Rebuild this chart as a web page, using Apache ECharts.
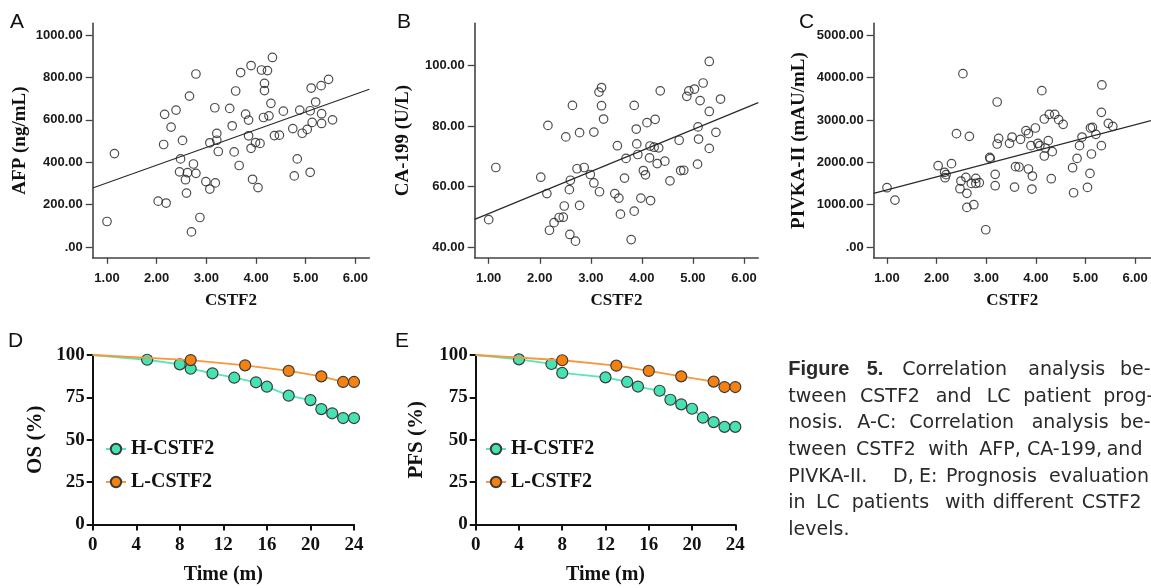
<!DOCTYPE html>
<html><head><meta charset="utf-8">
<script src="https://cdn.jsdelivr.net/npm/echarts@6/dist/echarts.min.js"></script>
<style>html,body{margin:0;padding:0;background:#fff}#c{width:1151px;height:588px}</style>
</head><body><div id="c"></div>
<script>
// ---- Panel A: CSTF2 vs AFP ----
const cstfA = [1.00,1.15,2.03,2.19,2.14,2.16,2.29,2.39,2.52,2.48,2.46,2.58,2.62,2.60,2.66,2.74,2.79,2.79,2.87,2.70,2.99,3.07,3.07,3.18,3.17,3.21,3.21,3.24,3.47,3.52,3.56,3.59,3.66,3.69,3.79,3.85,3.85,3.90,3.90,3.93,3.99,4.04,4.08,4.11,4.23,4.17,4.17,4.15,4.26,4.30,4.33,4.37,4.47,4.55,4.74,4.77,4.83,4.88,4.93,5.03,5.09,5.09,5.11,5.13,5.20,5.31,5.32,5.32,5.46,5.54];
const afpVals = [121,441,217,208,484,626,566,646,503,416,355,318,351,255,712,392,348,816,140,72,309,274,492,303,657,536,504,451,654,572,449,736,385,823,627,599,525,856,466,320,493,281,489,835,832,772,738,611,619,678,894,526,528,641,559,336,416,646,537,555,643,353,750,588,684,761,629,583,791,600];
const fitA = [[0.712, 279], [6.28, 744]];
const afpTicks = [0, 200, 400, 600, 800, 1000];

// ---- Panel B: CSTF2 vs CA-199 ----
const cstfB = [1.00,1.14,2.02,2.14,2.16,2.19,2.28,2.38,2.46,2.48,2.51,2.58,2.60,2.59,2.70,2.64,2.73,2.78,2.78,2.87,2.99,3.06,3.06,3.17,3.16,3.21,3.21,3.25,3.47,3.52,3.55,3.58,3.66,3.69,3.79,3.85,3.85,3.89,3.90,3.92,3.98,4.03,4.07,4.10,4.15,4.16,4.17,4.24,4.26,4.33,4.30,4.36,4.45,4.55,4.73,4.76,4.82,4.88,4.92,5.03,5.09,5.10,5.11,5.14,5.20,5.32,5.32,5.32,5.45,5.54];
const ca199Vals = [49.1,66.3,63.1,57.7,80.2,45.6,48.1,49.8,49.9,53.6,76.4,59.0,62.1,44.2,42.0,86.8,65.9,77.8,53.8,66.3,64.0,61.2,78.0,58.3,91.2,92.7,86.7,82.3,57.7,73.5,56.2,50.9,62.8,69.3,42.5,51.9,86.8,79.0,74.1,70.6,56.2,65.3,63.9,81.1,69.5,73.4,55.4,73.0,82.2,72.8,67.6,91.6,68.4,61.9,75.3,65.3,65.4,89.8,91.6,92.2,67.4,79.7,75.7,88.4,94.2,101.3,84.8,72.6,77.9,88.9];
const fitB = [[0.726, 49.2], [6.28, 87.7]];
const ca199Ticks = [40, 60, 80, 100];

// ---- Panel C: CSTF2 vs PIVKA-II ----
const cstfC = [1.00,1.16,2.03,2.16,2.17,2.19,2.30,2.40,2.47,2.49,2.53,2.59,2.61,2.61,2.66,2.70,2.75,2.79,2.79,2.86,2.99,3.07,3.08,3.18,3.18,3.22,3.22,3.25,3.47,3.52,3.57,3.59,3.66,3.69,3.80,3.85,3.85,3.90,3.92,3.93,3.99,4.04,4.08,4.12,4.17,4.17,4.19,4.25,4.27,4.31,4.33,4.38,4.46,4.55,4.74,4.76,4.83,4.88,4.93,5.04,5.09,5.10,5.12,5.14,5.21,5.32,5.33,5.32,5.46,5.55];
const pivkaVals = [1402,1110,1921,1764,1638,1709,1969,2677,1378,1559,4094,1646,1268,937,2614,1504,1000,1622,1504,1520,409,2118,2087,1717,1449,3425,2433,2567,2449,2598,1417,1898,1890,2543,2748,2677,1843,2394,1370,1677,2811,2449,2394,3693,3024,2150,2339,2512,3134,1614,2252,3134,3008,2898,1874,1283,2094,2394,2598,1409,1740,2811,2197,2827,2661,3181,3827,2394,2921,2850];
const fitC = [[0.732, 1268], [6.32, 2984]];
const pivkaTicks = [0, 1000, 2000, 3000, 4000, 5000];
const cstfTicks = [1, 2, 3, 4, 5, 6];

// ---- Panel D: OS ----
const osTimeH = [0,5,8,9,11,13,15,16,18,20,21,22,23,24];
const osH     = [100,97.2,94.5,91.9,89.2,86.6,83.9,81.3,76.0,73.4,68.1,65.6,62.8,62.8];
const osTimeL = [0,9,14,18,21,23,24];
const osL     = [100,97.0,93.9,90.6,87.4,84.1,84.1];

// ---- Panel E: PFS ----
const pfsTimeH = [0,4,7,8,12,14,15,17,18,19,20,21,22,23,24];
const pfsH     = [100,97.4,94.7,89.4,86.8,84.1,81.4,78.9,73.6,70.9,68.3,63.0,60.4,57.6,57.6];
const pfsTimeL = [0,8,13,16,19,22,23,24];
const pfsL     = [100,96.9,93.7,90.6,87.4,84.3,81.1,81.1];

const groupNames = ['H-CSTF2', 'L-CSTF2'];

const captionLines = [
  [['Figure',788.3,1],['5.',866.7,1],['Correlation',902.3],['analysis',1028.3],['be-',1120]],
  [['tween',788.3],['CSTF2',860],['and',935.7],['LC',986.7],['patient',1023.3],['prog-',1103.3]],
  [['nosis.',788.3],['A-C:',857.3],['Correlation',909.3],['analysis',1031.7],['be-',1120]],
  [['tween',788.3],['CSTF2',856],['with',928.3],['AFP,',979.3],['CA-199,',1027],['and',1106.7]],
  [['PIVKA-II.',788.3],['D,',893],['E:',919],['Prognosis',946],['evaluation',1049]],
  [['in',788.3],['LC',816],['patients',851.7],['with',945],['different',992.7],['CSTF2',1081.7]],
  [['levels.',788.3]]
];

// ---------------- chart -----------------
const chart = echarts.init(document.getElementById('c'), null, {renderer: 'canvas'});
const SANS = 'Liberation Sans', SERIF = 'Liberation Serif';
const fmt2 = v => (v === 0 ? '.00' : v.toFixed(2));

function scatterX(gi, min, max) {
  return {
    type: 'value', gridIndex: gi, min, max,
    axisLine: {show: true, onZero: false, lineStyle: {color: '#444', width: 1.6}},
    axisTick: {show: true, customValues: cstfTicks, length: 6, lineStyle: {color: '#444', width: 1.3}},
    axisLabel: {customValues: cstfTicks, formatter: v => v.toFixed(2), margin: 14,
      fontFamily: SANS, fontWeight: 'bold', fontSize: 13, color: '#1a1a1a'},
    splitLine: {show: false},
    name: 'CSTF2', nameLocation: 'middle', nameGap: 34,
    nameTextStyle: {fontFamily: SERIF, fontWeight: 'bold', fontSize: 17, color: '#111'}
  };
}
function scatterY(gi, min, max, ticks, name, gap) {
  return {
    type: 'value', gridIndex: gi, min, max,
    axisLine: {show: true, onZero: false, lineStyle: {color: '#444', width: 1.6}},
    axisTick: {show: true, customValues: ticks, length: 7, lineStyle: {color: '#444', width: 1.3}},
    axisLabel: {customValues: ticks, formatter: fmt2, margin: 10,
      fontFamily: SANS, fontWeight: 'bold', fontSize: 13, color: '#1a1a1a'},
    splitLine: {show: false},
    name, nameLocation: 'middle', nameGap: gap,
    nameTextStyle: {fontFamily: SERIF, fontWeight: 'bold', fontSize: 19, color: '#111'}
  };
}
function kmX(gi) {
  return {
    type: 'value', gridIndex: gi, min: 0, max: 24, interval: 4,
    axisLine: {show: true, onZero: false, lineStyle: {color: '#111', width: 2}},
    axisTick: {show: true, length: 6, lineStyle: {color: '#111', width: 2}},
    axisLabel: {margin: 11, fontFamily: SERIF, fontWeight: 'bold', fontSize: 19, color: '#111'},
    splitLine: {show: false},
    name: 'Time (m)', nameLocation: 'middle', nameGap: 40,
    nameTextStyle: {fontFamily: SERIF, fontWeight: 'bold', fontSize: 20, color: '#111'}
  };
}
function kmY(gi, name, gap) {
  return {
    type: 'value', gridIndex: gi, min: 0, max: 100, interval: 25,
    axisLine: {show: true, onZero: false, lineStyle: {color: '#111', width: 2}},
    axisTick: {show: true, length: 6, lineStyle: {color: '#111', width: 2}},
    axisLabel: {margin: 8, fontFamily: SERIF, fontWeight: 'bold', fontSize: 19, color: '#111'},
    splitLine: {show: false},
    name, nameLocation: 'middle', nameGap: gap,
    nameTextStyle: {fontFamily: SERIF, fontWeight: 'bold', fontSize: 21, color: '#111'}
  };
}
function scatterSeries(gi, xs, ys) {
  return {
    type: 'scatter', xAxisIndex: gi, yAxisIndex: gi,
    data: xs.map((x, i) => [x, ys[i]]),
    symbol: 'circle', symbolSize: 8.5,
    itemStyle: {color: 'rgba(255,255,255,0)', borderColor: '#222', borderWidth: 1.2},
    silent: true, z: 3
  };
}
function fitSeries(gi, pts) {
  return {
    type: 'line', xAxisIndex: gi, yAxisIndex: gi, data: pts,
    symbol: 'none', lineStyle: {color: '#2a2a2a', width: 1.2}, silent: true, z: 2
  };
}
const TEAL = '#45e3b3', TEAL_L = '#55e6bb', ORANGE = '#f5820f', ORANGE_L = '#f7983f';
function kmSeries(gi, name, xs, ys, fill, line, z) {
  return {
    type: 'line', name, xAxisIndex: gi, yAxisIndex: gi,
    data: xs.map((t, i) => i === 0 ? {value: [t, ys[i]], symbol: 'none'} : [t, ys[i]]),
    symbol: 'circle', symbolSize: 11, showSymbol: true, showAllSymbol: true,
    lineStyle: {color: line, width: 1.8},
    itemStyle: {color: fill, borderColor: '#3b3b3b', borderWidth: 1.2},
    emphasis: {disabled: true}, silent: true, z
  };
}
function kmLegend(left) {
  return {
    orient: 'vertical', left, top: 439, padding: 0, itemGap: 13, itemWidth: 20, itemHeight: 13,
    data: groupNames, selectedMode: false,
    textStyle: {fontFamily: SERIF, fontWeight: 'bold', fontSize: 20, color: '#111'}
  };
}

const graphic = [];
[['A', 10], ['B', 397], ['C', 799]].forEach(p => graphic.push({type: 'text', left: p[1], top: 12,
  style: {text: p[0], font: '21px "Liberation Sans"', fill: '#111'}}));
[['D', 8], ['E', 395]].forEach(p => graphic.push({type: 'text', left: p[1], top: 331,
  style: {text: p[0], font: '21px "Liberation Sans"', fill: '#111'}}));
captionLines.forEach((line, i) => {
  line.forEach(w => {
    graphic.push({type: 'text', x: w[1], y: 375 + i * 26.7 + 4.5,
      style: {text: w[0], font: (w[2] ? 'bold 20px "Liberation Sans"' : '19px "DejaVu Sans"'),
        fill: '#2a2a2a', align: 'left', verticalAlign: 'bottom', textAlign: 'left', textVerticalAlign: 'bottom'}});
  });
});

const option = {
  backgroundColor: '#fff',
  animation: false,
  grid: [
    {left: 92.7, top: 23.3, width: 276.6, height: 234.5, outerBoundsMode: 'none'},
    {left: 474.7, top: 23.3, width: 283.6, height: 234.5, outerBoundsMode: 'none'},
    {left: 873.7, top: 23.3, width: 277.3, height: 234.5, outerBoundsMode: 'none'},
    {left: 92.7, top: 355, width: 261.3, height: 169.5, outerBoundsMode: 'none'},
    {left: 475.7, top: 355, width: 259.6, height: 169.5, outerBoundsMode: 'none'}
  ],
  xAxis: [scatterX(0, 0.712, 6.28), scatterX(1, 0.726, 6.28), scatterX(2, 0.732, 6.32), kmX(3), kmX(4)],
  yAxis: [
    scatterY(0, -50, 1055, afpTicks, 'AFP (ng/mL)', 63),
    scatterY(1, 36.5, 113.9, ca199Ticks, 'CA-199 (U/L)', 62),
    scatterY(2, -253, 5283, pivkaTicks, 'PIVKA-II (mAU/mL)', 65),
    kmY(3, 'OS (%)', 47),
    kmY(4, 'PFS (%)', 49)
  ],
  legend: [kmLegend(105), kmLegend(485)],
  series: [
    fitSeries(0, fitA), scatterSeries(0, cstfA, afpVals),
    fitSeries(1, fitB), scatterSeries(1, cstfB, ca199Vals),
    fitSeries(2, fitC), scatterSeries(2, cstfC, pivkaVals),
    kmSeries(3, 'H-CSTF2', osTimeH, osH, TEAL, TEAL_L, 3),
    kmSeries(3, 'L-CSTF2', osTimeL, osL, ORANGE, ORANGE_L, 4),
    kmSeries(4, 'H-CSTF2', pfsTimeH, pfsH, TEAL, TEAL_L, 3),
    kmSeries(4, 'L-CSTF2', pfsTimeL, pfsL, ORANGE, ORANGE_L, 4)
  ],
  graphic
};
chart.setOption(option);
</script>
</body></html>
